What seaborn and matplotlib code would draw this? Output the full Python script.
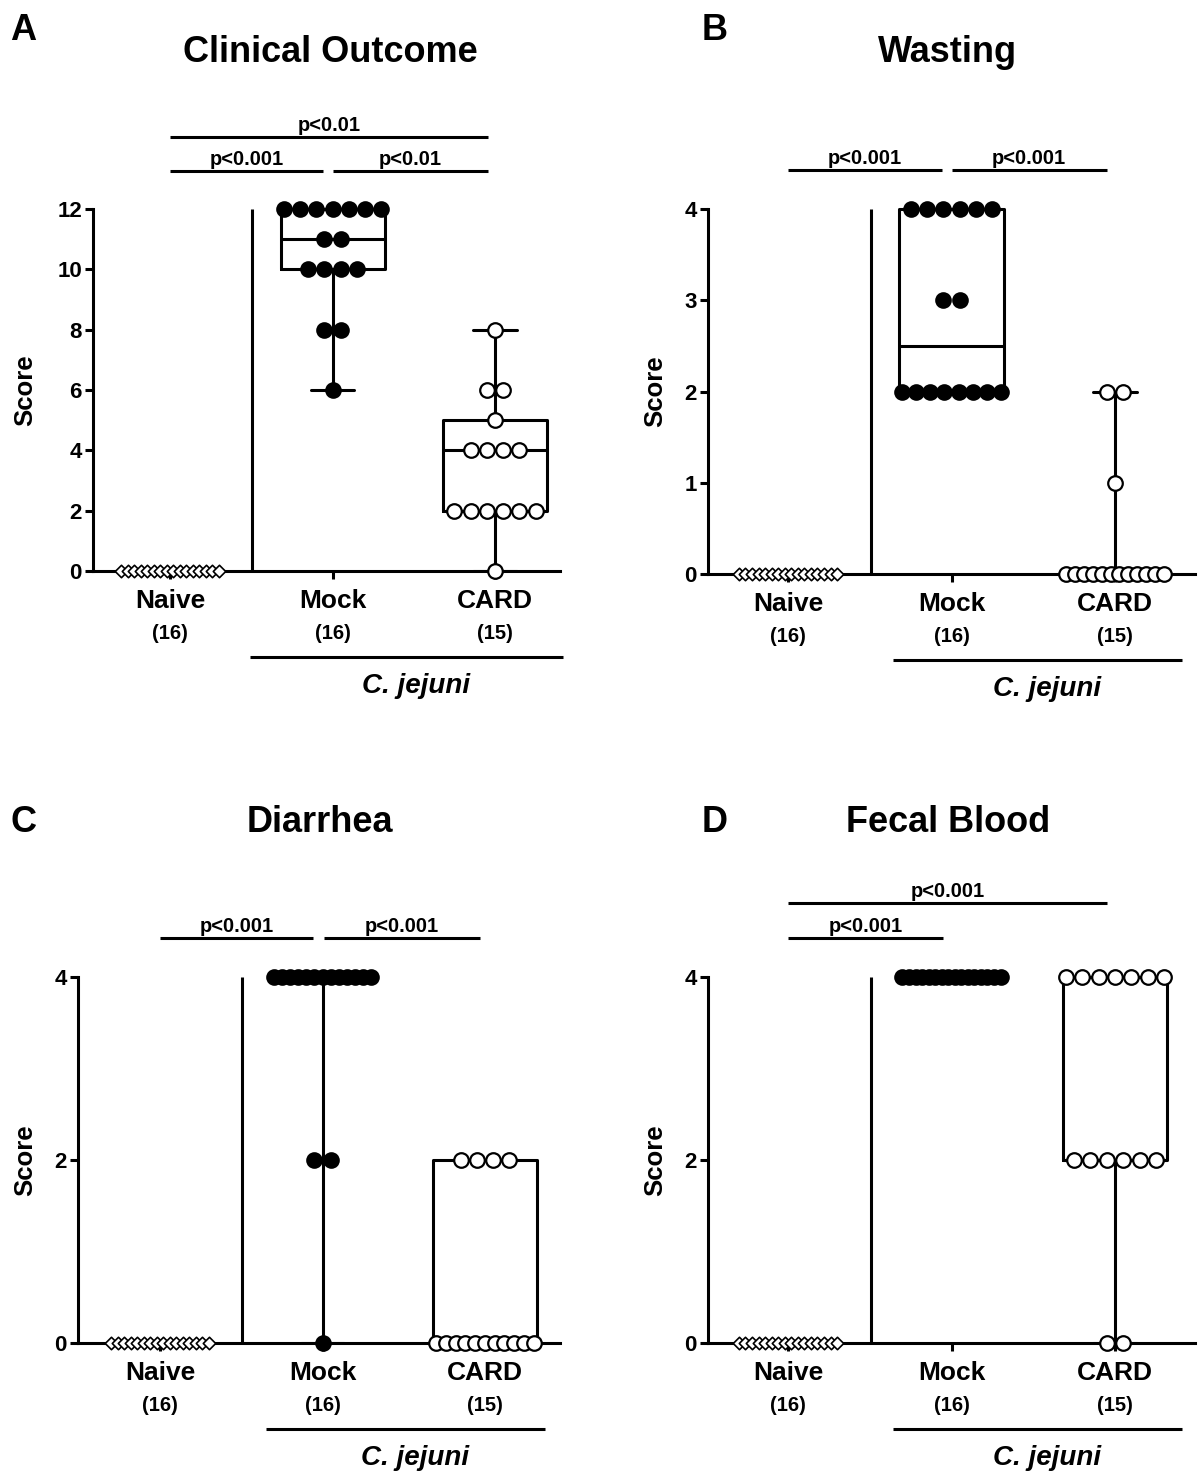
"""Four-panel disease score figure (Prism-style box + dot plots)."""
import matplotlib

matplotlib.use("Agg")

import matplotlib.pyplot as plt
import matplotlib.transforms as mtransforms
import numpy as np
import pandas as pd
import seaborn as sns

W, H = 1203, 1474

groups = ["Naive", "Mock", "CARD"]
group_n = ["(16)", "(16)", "(15)"]

naive_score = [0, 0, 0, 0, 0, 0, 0, 0, 0, 0, 0, 0, 0, 0, 0, 0]

clinical_mock = [12, 12, 12, 12, 12, 12, 12, 11, 11, 10, 10, 10, 10, 8, 8, 6]
clinical_card = [8, 6, 6, 5, 4, 4, 4, 4, 2, 2, 2, 2, 2, 2, 0]

wasting_mock = [4, 4, 4, 4, 4, 4, 3, 3, 2, 2, 2, 2, 2, 2, 2, 2]
wasting_card = [2, 2, 1, 0, 0, 0, 0, 0, 0, 0, 0, 0, 0, 0, 0]

diarrhea_mock = [4, 4, 4, 4, 4, 4, 4, 4, 4, 4, 4, 4, 4, 2, 2, 0]
diarrhea_card = [2, 2, 2, 2, 0, 0, 0, 0, 0, 0, 0, 0, 0, 0, 0]

blood_mock = [4, 4, 4, 4, 4, 4, 4, 4, 4, 4, 4, 4, 4, 4, 4, 4]
blood_card = [4, 4, 4, 4, 4, 4, 4, 2, 2, 2, 2, 2, 2, 0, 0]

# (from group, to group, label, level) for each significance bar
clinical_sig = [(0, 0.94, "p<0.001", 0), (1.0, 1.96, "p<0.01", 0), (0, 1.96, "p<0.01", 1)]
wasting_sig = [(0, 0.94, "p<0.001", 0), (1.0, 1.95, "p<0.001", 0)]
diarrhea_sig = [(0, 0.94, "p<0.001", 0), (1.01, 1.97, "p<0.001", 0)]
blood_sig = [(0, 0.95, "p<0.001", 0), (0, 1.95, "p<0.001", 1)]

panels = [
    dict(letter="A", title="Clinical Outcome", mock=clinical_mock, card=clinical_card,
         sig=clinical_sig, yticks=[0, 2, 4, 6, 8, 10, 12], sig_y=[13.26, 14.39],
         left=93, right=560, x0=170, step=162.5, y0=571, ytop_px=209, top=110,
         letter_xy=(10, 30), title_xy=(330, 52), score_x=25, jline=(0.49, 2.42)),
    dict(letter="B", title="Wasting", mock=wasting_mock, card=wasting_card,
         sig=wasting_sig, yticks=[0, 1, 2, 3, 4], sig_y=[4.43],
         left=708, right=1195, x0=788, step=163.5, y0=574, ytop_px=209, top=110,
         letter_xy=(702, 30), title_xy=(948, 52), score_x=655, jline=(0.64, 2.41)),
    dict(letter="C", title="Diarrhea", mock=diarrhea_mock, card=diarrhea_card,
         sig=diarrhea_sig, yticks=[0, 2, 4], sig_y=[4.43],
         left=78, right=560, x0=160, step=162.5, y0=1343, ytop_px=977, top=880,
         letter_xy=(10, 822), title_xy=(320, 822), score_x=25, jline=(0.65, 2.37)),
    dict(letter="D", title="Fecal Blood", mock=blood_mock, card=blood_card,
         sig=blood_sig, yticks=[0, 2, 4], sig_y=[4.43, 4.81],
         left=708, right=1195, x0=788, step=163.5, y0=1343, ytop_px=977, top=880,
         letter_xy=(702, 822), title_xy=(948, 822), score_x=655, jline=(0.64, 2.41)),
]

LW = 2.2


def prism_offsets(values, spacing=0.1, span=0.6):
    """Spread tied values side by side, squeezing rows that get too wide."""
    values = list(values)
    offsets = np.zeros(len(values))
    for v in set(values):
        idx = [i for i, w in enumerate(values) if w == v]
        k = len(idx)
        if k == 1:
            continue
        step = min(spacing, span / (k - 1))
        for j, i in enumerate(idx):
            offsets[i] = (j - (k - 1) / 2) * step
    return offsets


def prism_stats(values, label):
    # Prism quartiles use the (n+1)p rank, i.e. numpy's "weibull" method
    q1, med, q3 = np.percentile(values, [25, 50, 75], method="weibull")
    return dict(label=label, med=med, q1=q1, q3=q3,
                whislo=min(values), whishi=max(values), fliers=[])


sns.set_theme(style="ticks")
plt.rcParams["font.family"] = ["Liberation Sans", "DejaVu Sans"]
plt.rcParams["font.weight"] = "bold"
for key in ("text.color", "axes.labelcolor", "xtick.color", "ytick.color", "axes.edgecolor"):
    plt.rcParams[key] = "black"

fig = plt.figure(figsize=(W / 100, H / 100), dpi=100)

for p in panels:
    ymax = p["yticks"][-1]
    rect = [p["left"] / W, 1 - p["y0"] / H,
            (p["right"] - p["left"]) / W, (p["y0"] - p["top"]) / H]
    ax = fig.add_axes(rect)
    ax.set_xlim((p["left"] - p["x0"]) / p["step"], (p["right"] - p["x0"]) / p["step"])
    ax.set_ylim(0, ymax * (p["y0"] - p["top"]) / (p["y0"] - p["ytop_px"]))

    series = [naive_score, p["mock"], p["card"]]

    # boxes with min-max whiskers
    ax.bxp([prism_stats(v, g) for v, g in zip(series[1:], groups[1:])],
           positions=[1, 2], widths=0.64, capwidths=0.27, showfliers=False,
           manage_ticks=False,
           boxprops=dict(color="black", lw=LW),
           whiskerprops=dict(color="black", lw=LW),
           capprops=dict(color="black", lw=LW),
           medianprops=dict(color="black", lw=LW),
           zorder=3)

    styles = [
        dict(marker="D", s=40, facecolor="white", edgecolor="black", linewidth=1.2),
        dict(marker="o", s=110, facecolor="black", edgecolor="black", linewidth=1.5),
        dict(marker="o", s=110, facecolor="white", edgecolor="black", linewidth=1.6),
    ]
    for pos, (vals, st) in enumerate(zip(series, styles)):
        df = pd.DataFrame({"x": pos + prism_offsets(vals), "score": vals})
        sns.scatterplot(data=df, x="x", y="score", ax=ax, legend=False,
                        clip_on=False, zorder=5, **st)

    # separator between naive and infected groups
    ax.plot([0.505, 0.505], [0, ymax], color="black", lw=LW, solid_capstyle="butt")

    sns.despine(ax=ax)
    ax.spines["left"].set_bounds(0, ymax)
    for side in ("left", "bottom"):
        ax.spines[side].set_linewidth(LW)
        ax.spines[side].set_color("black")
    ax.set_yticks(p["yticks"])
    ax.set_yticklabels([str(t) for t in p["yticks"]], fontsize=16, fontweight="bold")
    ax.set_xticks([0, 1, 2])
    ax.set_xticklabels([])
    ax.tick_params(axis="both", length=6, width=LW, color="black", pad=2)
    ax.set_xlabel("")
    ax.set_ylabel("")

    # group names and counts under the axis
    xt = ax.get_xaxis_transform()
    for i, (g, n) in enumerate(zip(groups, group_n)):
        ax.annotate(g, xy=(i, 0), xycoords=xt, xytext=(0, -21.5), textcoords="offset points",
                    ha="center", va="center", fontsize=19, fontweight="bold")
        ax.annotate(n, xy=(i, 0), xycoords=xt, xytext=(0, -45), textcoords="offset points",
                    ha="center", va="center", fontsize=14.5, fontweight="bold")
    off = mtransforms.ScaledTranslation(0, -62 / 72, fig.dpi_scale_trans)
    ax.plot(list(p["jline"]), [0, 0], transform=xt + off, color="black", lw=LW,
            clip_on=False, solid_capstyle="butt")
    ax.annotate("C. jejuni", xy=((p["jline"][0] + p["jline"][1]) / 2 + 0.06, 0),
                xycoords=xt, xytext=(0, -83), textcoords="offset points",
                ha="center", va="center", fontsize=20, fontweight="bold", style="italic")

    # significance bars
    for x1, x2, label, level in p["sig"]:
        y = p["sig_y"][level]
        ax.plot([x1, x2], [y, y], color="black", lw=LW, clip_on=False, solid_capstyle="butt")
        ax.annotate(label, xy=((x1 + x2) / 2, y), xytext=(0, 1.5), textcoords="offset points",
                    ha="center", va="bottom", fontsize=14.5, fontweight="bold",
                    annotation_clip=False)

    fig.text(p["letter_xy"][0] / W, 1 - p["letter_xy"][1] / H, p["letter"],
             ha="left", va="center", fontsize=26, fontweight="bold")
    fig.text(p["title_xy"][0] / W, 1 - p["title_xy"][1] / H, p["title"],
             ha="center", va="center", fontsize=26, fontweight="bold")
    fig.text(p["score_x"] / W, 1 - (p["y0"] + p["ytop_px"]) / 2 / H, "Score",
             ha="center", va="center", rotation=90, fontsize=18.5, fontweight="bold")

fig.savefig("out.png", dpi=100)
plt.close(fig)
